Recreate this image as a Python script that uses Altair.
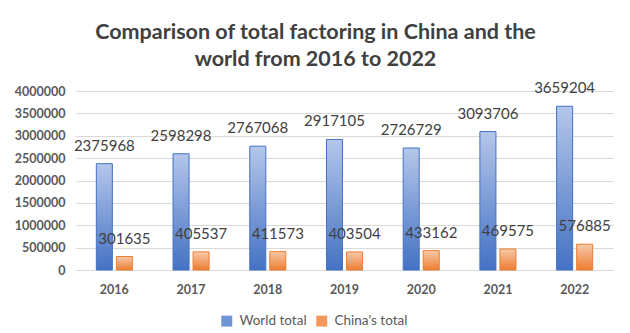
import altair as alt
import pandas as pd

years = ["2016", "2017", "2018", "2019", "2020", "2021", "2022"]
world_total = [2375968, 2598298, 2767068, 2917105, 2726729, 3093706, 3659204]
china_total = [301635, 405537, 411573, 403504, 433162, 469575, 576885]
series_names = ["World total", "China's total"]
y_ticks = [0, 500000, 1000000, 1500000, 2000000, 2500000, 3000000, 3500000, 4000000]

rows = []
for i, y in enumerate(years):
    rows.append({"year": y, "series": series_names[0], "value": world_total[i]})
    rows.append({"year": y, "series": series_names[1], "value": china_total[i]})
df = pd.DataFrame(rows)

FONT = "Lato"

x_enc = alt.X("year:N", sort=years,
              scale=alt.Scale(paddingInner=0.53, paddingOuter=0.265),
              axis=alt.Axis(title=None, labelAngle=0, ticks=False, domain=True,
                            domainColor="#d9d9d9", labelFont=FONT, labelFontSize=12.5,
                            labelFontWeight="bold", labelColor="#595959", labelPadding=13,
                            grid=False))
y_enc = alt.Y("value:Q", scale=alt.Scale(domain=[0, 4000000], nice=False),
              axis=alt.Axis(title=None, values=y_ticks, format="d", domain=False, ticks=False,
                            gridColor="#d9d9d9", labelFont=FONT, labelFontSize=12.5,
                            labelFontWeight="bold", labelColor="#595959", labelPadding=11))
xo_enc = alt.XOffset("series:N", scale=alt.Scale(domain=series_names, paddingInner=0.2))

blue_grad = alt.Gradient(gradient="linear",
                         stops=[alt.GradientStop(color="#b4c6ea", offset=0),
                                alt.GradientStop(color="#4472c4", offset=1)],
                         x1=0, x2=0, y1=0, y2=1)
orange_grad = alt.Gradient(gradient="linear",
                           stops=[alt.GradientStop(color="#f8c9a8", offset=0),
                                  alt.GradientStop(color="#ed7d31", offset=1)],
                           x1=0, x2=0, y1=0, y2=1)

base = alt.Chart(df)

world_bars = base.transform_filter(alt.datum.series == series_names[0]).mark_bar(
    fill=blue_grad, stroke="#4472c4", strokeWidth=1).encode(x=x_enc, y=y_enc, xOffset=xo_enc)
china_bars = base.transform_filter(alt.datum.series == series_names[1]).mark_bar(
    fill=orange_grad, stroke="#ed7d31", strokeWidth=1).encode(x=x_enc, y=y_enc, xOffset=xo_enc)

labels = base.mark_text(font=FONT, fontSize=15, color="#404040", dy=-18,
                        baseline="middle", align="center").encode(
    x=x_enc, y=y_enc, xOffset=xo_enc, text=alt.Text("value:Q", format="d"))

legend_layer = base.mark_square(opacity=0).encode(
    color=alt.Color("series:N",
                    scale=alt.Scale(domain=series_names, range=["#7194d6", "#f2985c"]),
                    legend=alt.Legend(title=None, orient="none", direction="horizontal",
                                      legendX=144, legendY=223, symbolType="square",
                                      symbolSize=120, symbolOpacity=1,
                                      symbolStrokeWidth=0, labelFont=FONT,
                                      labelFontSize=13.5, labelColor="#595959",
                                      columnPadding=8, labelOffset=6)))

chart = alt.layer(world_bars, china_bars, labels, legend_layer).properties(
    width=537, height=179,
    autosize=alt.AutoSizeParams(type="none"),
    padding={"left": 68, "top": 83, "right": 9, "bottom": 63},
    title=alt.TitleParams(
        text=["Comparison of total factoring in China and the", "world from 2016 to 2022"],
        font=FONT, fontSize=21.5, fontWeight="bold", color="#404040",
        anchor="middle", dx=-29, offset=11, lineHeight=27),
).configure_view(stroke=None)

chart.save("out.html", embed_options={"renderer": "svg", "actions": False})
